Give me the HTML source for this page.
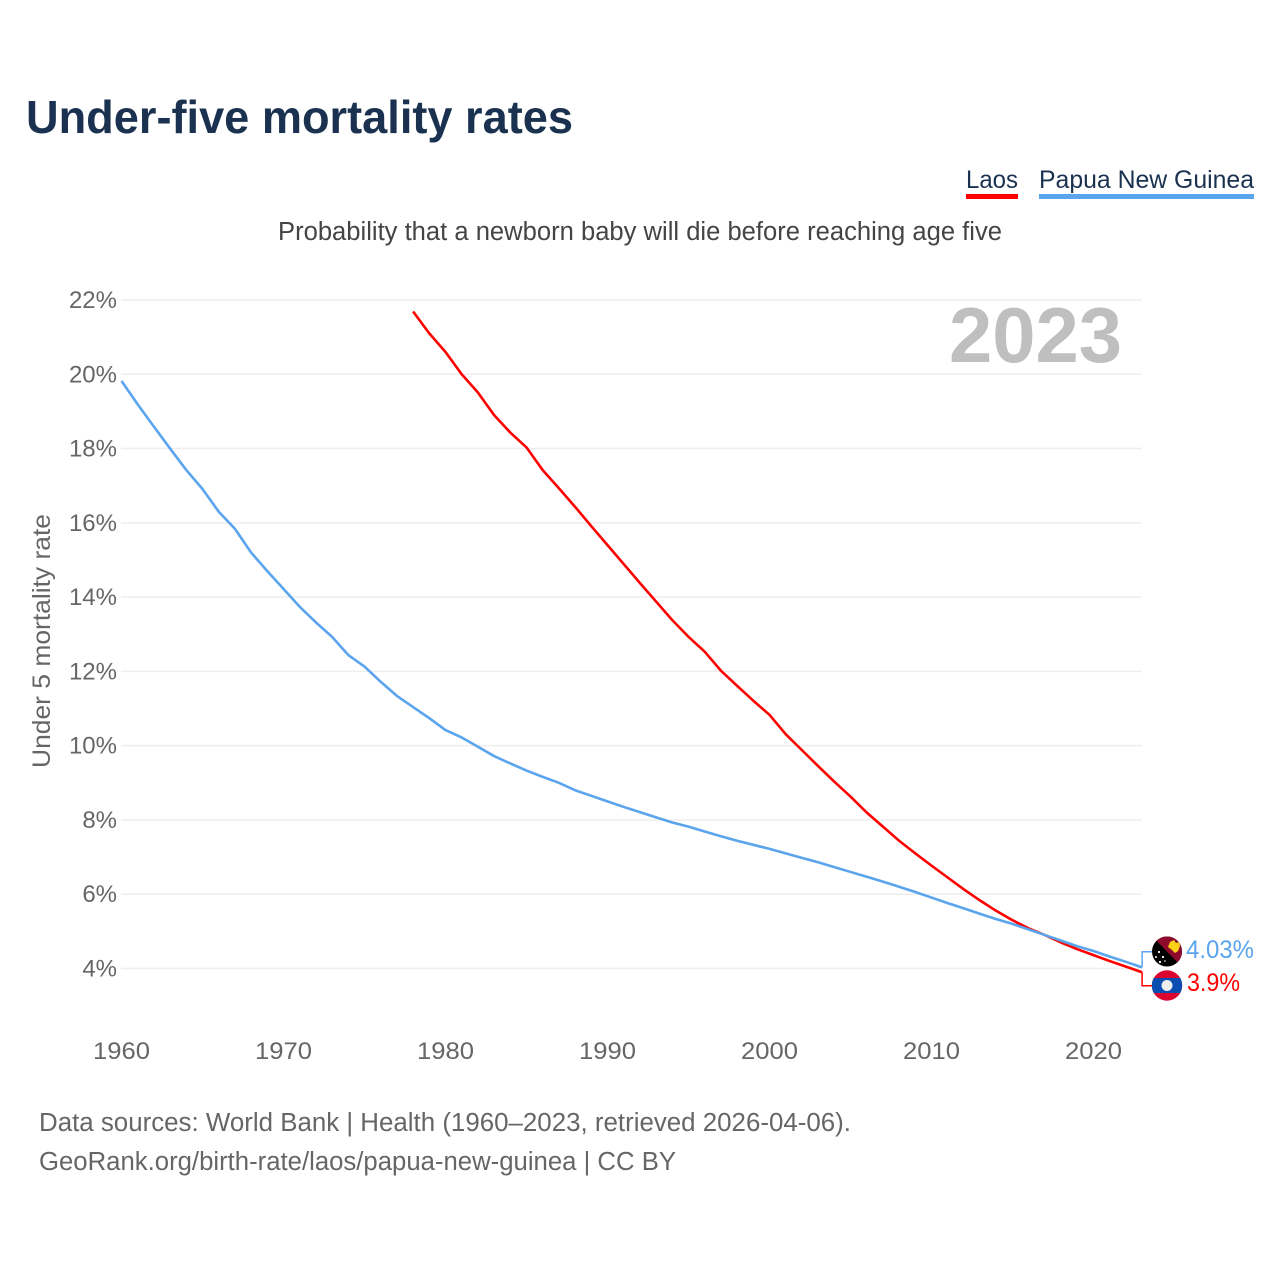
<!DOCTYPE html>
<html lang="en">
<head>
<meta charset="utf-8">
<title>Under-five mortality rates</title>
<style>
html,body{margin:0;padding:0;background:#fff;}
svg{display:block;font-family:"Liberation Sans",sans-serif;}
</style>
</head>
<body>
<svg id="chart" xmlns="http://www.w3.org/2000/svg" width="1280" height="1280" viewBox="0 0 1280 1280">
  <rect width="1280" height="1280" fill="#fff"/>
  <text x="26" y="133" font-size="46" font-weight="700" fill="#1a3150" textLength="547" lengthAdjust="spacingAndGlyphs">Under-five mortality rates</text>
  <g>
    <g>
      <text x="966" y="188" font-size="25" fill="#1a3150" textLength="52" lengthAdjust="spacingAndGlyphs">Laos</text>
      <rect x="966" y="194" width="52" height="5" fill="#ff0000"/>
    </g>
    <g>
      <text x="1039" y="188" font-size="25" fill="#1a3150" textLength="215" lengthAdjust="spacingAndGlyphs">Papua New Guinea</text>
      <rect x="1039" y="194" width="215" height="5" fill="#5ba4ee"/>
    </g>
  </g>
  <text x="278" y="240" font-size="25.5" fill="#444" textLength="724" lengthAdjust="spacingAndGlyphs">Probability that a newborn baby will die before reaching age five</text>
  <g id="grid"></g>
  <g id="yticks"></g>
  <g id="xticks"></g>
  <text transform="translate(50,768) rotate(-90)" x="0" y="0" font-size="25" fill="#666" textLength="254" lengthAdjust="spacingAndGlyphs">Under 5 mortality rate</text>
  <text x="949" y="362" font-size="78" font-weight="700" fill="#bfbfbf" textLength="173" lengthAdjust="spacingAndGlyphs">2023</text>
  <g id="series"></g>
  <g>
    <clipPath id="clip-png"><circle cx="1167" cy="951.5" r="15"/></clipPath>
    <g clip-path="url(#clip-png)">
      <rect x="1152" y="936" width="30" height="31" fill="#000"/>
      <polygon points="1152,936 1182,936 1182,967" fill="#8f0a2a"/>
      <polygon points="1170,942 1174,940 1176,943 1179,942 1180,946 1178,951 1175,953 1172,950 1168,947" fill="#fcd116"/>
      <circle cx="1159" cy="952" r="1.1" fill="#fff"/>
      <circle cx="1163" cy="957" r="1.1" fill="#fff"/>
      <circle cx="1156" cy="957" r="1" fill="#fff"/>
      <circle cx="1160" cy="962" r="1.1" fill="#fff"/>
      <circle cx="1165" cy="961" r="0.8" fill="#fff"/>
    </g>
  </g>
  <g>
    <clipPath id="clip-lao"><circle cx="1167" cy="985.5" r="15.2"/></clipPath>
    <g clip-path="url(#clip-lao)">
      <rect x="1151" y="970" width="32" height="32" fill="#dc0530"/>
      <rect x="1151" y="978" width="32" height="15" fill="#0a4fb0"/>
      <circle cx="1167" cy="985.5" r="5.5" fill="#eee"/>
    </g>
  </g>
  <g id="end-labels"></g>
  <text x="39" y="1131" font-size="25.5" fill="#666" textLength="812" lengthAdjust="spacingAndGlyphs">Data sources: World Bank | Health (1960–2023, retrieved 2026-04-06).</text>
  <text x="39" y="1170" font-size="25.5" fill="#666" textLength="637" lengthAdjust="spacingAndGlyphs">GeoRank.org/birth-rate/laos/papua-new-guinea | CC BY</text>
</svg>
<script>
const years = [1960,1961,1962,1963,1964,1965,1966,1967,1968,1969,1970,1971,1972,1973,1974,1975,1976,1977,1978,1979,1980,1981,1982,1983,1984,1985,1986,1987,1988,1989,1990,1991,1992,1993,1994,1995,1996,1997,1998,1999,2000,2001,2002,2003,2004,2005,2006,2007,2008,2009,2010,2011,2012,2013,2014,2015,2016,2017,2018,2019,2020,2021,2022,2023];
const pngValues = [19.82,19.19,18.59,18.0,17.42,16.91,16.3,15.84,15.2,14.7,14.22,13.74,13.32,12.93,12.44,12.13,11.72,11.34,11.04,10.74,10.42,10.22,9.97,9.72,9.52,9.33,9.16,9.0,8.8,8.65,8.5,8.35,8.21,8.07,7.93,7.82,7.69,7.56,7.44,7.33,7.22,7.1,6.98,6.86,6.73,6.6,6.47,6.34,6.2,6.06,5.91,5.76,5.62,5.47,5.33,5.2,5.05,4.9,4.75,4.6,4.47,4.32,4.18,4.03];
const laosValues = [null,null,null,null,null,null,null,null,null,null,null,null,null,null,null,null,null,null,21.69,21.1,20.6,20.0,19.51,18.9,18.43,18.03,17.42,16.93,16.43,15.91,15.4,14.89,14.38,13.88,13.38,12.93,12.53,12.02,11.61,11.21,10.83,10.31,9.88,9.45,9.03,8.63,8.2,7.82,7.44,7.1,6.77,6.45,6.13,5.83,5.55,5.3,5.08,4.9,4.7,4.52,4.36,4.2,4.05,3.9];
const yTickValues = [22,20,18,16,14,12,10,8,6,4];
const xTickValues = [1960,1970,1980,1990,2000,2010,2020];

const NS = 'http://www.w3.org/2000/svg';
const xPos = function (year) { return 121.5 + (year - 1960) * 16.2; };
const yPos = function (value) { return 968.5 - (value - 4) * 37.14; };
const make = function (tag, parentId) {
  const el = document.createElementNS(NS, tag);
  document.getElementById(parentId).appendChild(el);
  return el;
};

yTickValues.forEach(function (v) {
  const line = make('line', 'grid');
  
  
  line.setAttribute('x1', 121);
  line.setAttribute('x2', 1141.5);
  line.setAttribute('y1', yPos(v));
  line.setAttribute('y2', yPos(v));
  line.setAttribute('stroke', '#eeeeee');
  line.setAttribute('stroke-width', 1.5);

  const label = make('text', 'yticks');
  
  
  label.setAttribute('x', 117);
  label.setAttribute('y', yPos(v) + 8);
  label.setAttribute('text-anchor', 'end');
  label.setAttribute('font-size', 24);
  label.setAttribute('fill', '#666');
  label.textContent = v + '%';
});

xTickValues.forEach(function (t) {
  const label = make('text', 'xticks');
  
  
  label.setAttribute('x', xPos(t));
  label.setAttribute('y', 1059);
  label.setAttribute('text-anchor', 'middle');
  label.setAttribute('font-size', 24.5);
  label.setAttribute('fill', '#666');
  label.setAttribute('textLength', 57);
  label.setAttribute('lengthAdjust', 'spacingAndGlyphs');
  label.textContent = t;
});

const pathFor = function (values) {
  let d = '';
  values.forEach(function (v, i) {
    if (v === null) return;
    d += (d === '' ? 'M' : 'L') + xPos(years[i]).toFixed(2) + ' ' + yPos(v).toFixed(2);
  });
  return d;
};

const laosLine = make('path', 'series');


laosLine.setAttribute('d', pathFor(laosValues));
laosLine.setAttribute('fill', 'none');
laosLine.setAttribute('stroke', '#ff0000');
laosLine.setAttribute('stroke-width', 2.6);
laosLine.setAttribute('stroke-linejoin', 'round');

const pngLine = make('path', 'series');


pngLine.setAttribute('d', pathFor(pngValues));
pngLine.setAttribute('fill', 'none');
pngLine.setAttribute('stroke', '#5ba4ee');
pngLine.setAttribute('stroke-width', 2.6);
pngLine.setAttribute('stroke-linejoin', 'round');

const lastYear = years[years.length - 1];
const lastPng = pngValues[pngValues.length - 1];
const lastLaos = laosValues[laosValues.length - 1];

const pngConnector = make('path', 'end-labels');


pngConnector.setAttribute('d', 'M' + xPos(lastYear) + ' ' + yPos(lastPng) + 'V951.8H1152');
pngConnector.setAttribute('fill', 'none');
pngConnector.setAttribute('stroke', '#5ba4ee');
pngConnector.setAttribute('stroke-width', 1.5);

const laosConnector = make('path', 'end-labels');


laosConnector.setAttribute('d', 'M' + xPos(lastYear) + ' ' + yPos(lastLaos) + 'V985.7H1152');
laosConnector.setAttribute('fill', 'none');
laosConnector.setAttribute('stroke', '#ff0000');
laosConnector.setAttribute('stroke-width', 1.5);

const pngLabel = make('text', 'end-labels');


pngLabel.setAttribute('x', 1186);
pngLabel.setAttribute('y', 958);
pngLabel.setAttribute('font-size', 25);
pngLabel.setAttribute('fill', '#5ba4ee');
pngLabel.setAttribute('textLength', 68);
pngLabel.setAttribute('lengthAdjust', 'spacingAndGlyphs');
pngLabel.textContent = lastPng.toFixed(2) + '%';

const laosLabel = make('text', 'end-labels');


laosLabel.setAttribute('x', 1187);
laosLabel.setAttribute('y', 991);
laosLabel.setAttribute('font-size', 25);
laosLabel.setAttribute('fill', '#ff0000');
laosLabel.setAttribute('textLength', 53);
laosLabel.setAttribute('lengthAdjust', 'spacingAndGlyphs');
laosLabel.textContent = lastLaos + '%';
</script>
</body>
</html>
